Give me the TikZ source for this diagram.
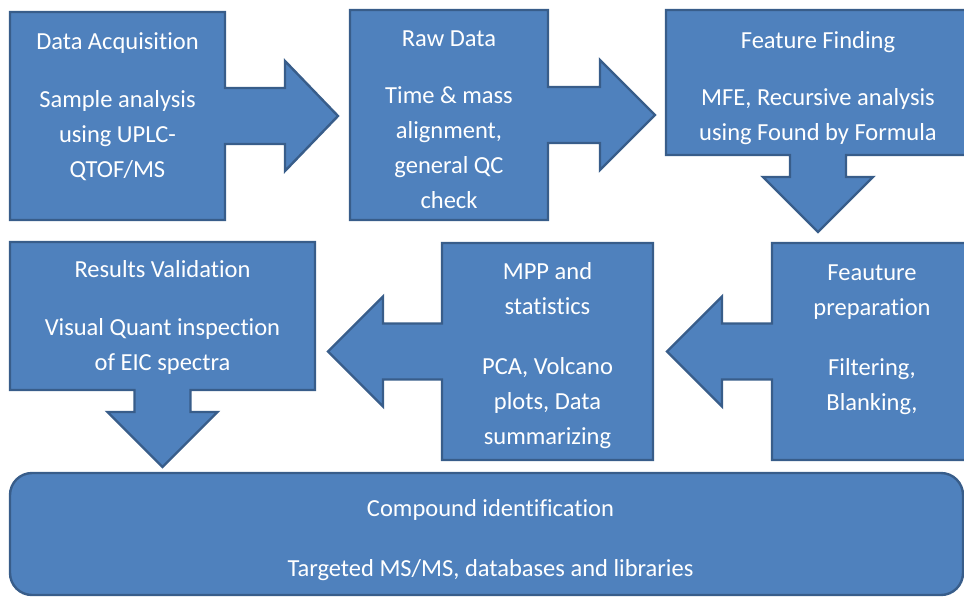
\documentclass[tikz,border=0pt]{standalone}
\usepackage{fontspec}
\setmainfont{Carlito}[Ligatures=NoCommon]
\usetikzlibrary{calc}

\definecolor{boxfill}{HTML}{4F81BD}
\definecolor{boxline}{HTML}{385D8A}

\tikzset{
	stage/.style={rectangle, inner sep=0pt, outer sep=0pt},
	callout/.style={fill=boxfill, draw=boxline, line width=2.4pt, line join=miter},
	stagetext/.style={anchor=north, align=center, text=white, inner sep=0pt,
		font=\fontsize{24.5}{35}\selectfont},
}

\begin{document}
\begin{tikzpicture}[x=1pt, y=-1pt]

% parameters %{{{1

	\def\shaft{28}
	\def\head{55}

	\useasboundingbox (0,0) rectangle (964,598);

% boxes %{{{1

	\node[stage, minimum width=215, minimum height=208] (acq) at (117.5,116) {};
	\node[stage, minimum width=198, minimum height=210] (raw) at (449,115) {};
	\node[stage, minimum width=304, minimum height=145] (find) at (818,82.5) {};
	\node[stage, minimum width=200, minimum height=217] (prep) at (872,351.5) {};
	\node[stage, minimum width=211, minimum height=217] (mpp) at (547.5,351.5) {};
	\node[stage, minimum width=305, minimum height=148] (valid) at (162.5,316) {};

% callouts, right %{{{1

	\draw[callout] (acq.north west) -- (acq.north east)
		-- ($(acq.east)+(0,-\shaft)$) -- ($(acq.east)+(60,-\shaft)$)
		-- ($(acq.east)+(60,-\head)$) -- ($(acq.east)+(113,0)$)
		-- ($(acq.east)+(60,\head)$) -- ($(acq.east)+(60,\shaft)$)
		-- ($(acq.east)+(0,\shaft)$) -- (acq.south east)
		-- (acq.south west) -- cycle;

	\draw[callout] (raw.north west) -- (raw.north east)
		-- ($(raw.east)+(0,-\shaft)$) -- ($(raw.east)+(52,-\shaft)$)
		-- ($(raw.east)+(52,-\head)$) -- ($(raw.east)+(107,0)$)
		-- ($(raw.east)+(52,\head)$) -- ($(raw.east)+(52,\shaft)$)
		-- ($(raw.east)+(0,\shaft)$) -- (raw.south east)
		-- (raw.south west) -- cycle;

% callouts, down %{{{1

	\draw[callout] (find.north west) -- (find.north east)
		-- (find.south east)
		-- ($(find.south)+(\shaft,0)$) -- ($(find.south)+(\shaft,22)$)
		-- ($(find.south)+(\head,22)$) -- ($(find.south)+(0,77)$)
		-- ($(find.south)+(-\head,22)$) -- ($(find.south)+(-\shaft,22)$)
		-- ($(find.south)+(-\shaft,0)$) -- (find.south west) -- cycle;

	\draw[callout] (valid.north west) -- (valid.north east)
		-- (valid.south east)
		-- ($(valid.south)+(\shaft,0)$) -- ($(valid.south)+(\shaft,22)$)
		-- ($(valid.south)+(\head,22)$) -- ($(valid.south)+(0,77)$)
		-- ($(valid.south)+(-\head,22)$) -- ($(valid.south)+(-\shaft,22)$)
		-- ($(valid.south)+(-\shaft,0)$) -- (valid.south west) -- cycle;

% callouts, left %{{{1

	\draw[callout] (prep.north west) -- (prep.north east)
		-- (prep.south east) -- (prep.south west)
		-- ($(prep.west)+(0,\shaft)$) -- ($(prep.west)+(-50,\shaft)$)
		-- ($(prep.west)+(-50,\head)$) -- ($(prep.west)+(-105,0)$)
		-- ($(prep.west)+(-50,-\head)$) -- ($(prep.west)+(-50,-\shaft)$)
		-- ($(prep.west)+(0,-\shaft)$) -- cycle;

	\draw[callout] (mpp.north west) -- (mpp.north east)
		-- (mpp.south east) -- (mpp.south west)
		-- ($(mpp.west)+(0,\shaft)$) -- ($(mpp.west)+(-59,\shaft)$)
		-- ($(mpp.west)+(-59,\head)$) -- ($(mpp.west)+(-114,0)$)
		-- ($(mpp.west)+(-59,-\head)$) -- ($(mpp.west)+(-59,-\shaft)$)
		-- ($(mpp.west)+(0,-\shaft)$) -- cycle;

% bottom bar %{{{1

	\node[stage, callout, rounded corners=22pt, minimum width=953, minimum height=122]
		(ident) at (486.5,534) {};

% labels %{{{1

	\node[stagetext] (acq-text) at ($(acq.north)+(0,20)$)
		{Data Acquisition\\[23pt]Sample analysis\\using UPLC-\\QTOF/MS};
	\node[stagetext] (raw-text) at ($(raw.north)+(0,21)$)
		{Raw Data\\[22pt]Time \& mass\\alignment,\\general QC\\check};
	\node[stagetext] (find-text) at ($(find.north)+(0,21)$)
		{Feature Finding\\[22pt]MFE, Recursive analysis\\using Found by Formula};
	\node[stagetext] (prep-text) at ($(prep.north)+(0,22)$)
		{Feauture\\preparation\\[25pt]Filtering,\\Blanking,};
	\node[stagetext] (mpp-text) at ($(mpp.north)+(0,19)$)
		{MPP and\\statistics\\[25pt]PCA, Volcano\\plots, Data\\summarizing};
	\node[stagetext] (valid-text) at ($(valid.north)+(0,18)$)
		{Results Validation\\[23pt]Visual Quant inspection\\of EIC spectra};
	\node[stagetext] (ident-text) at ($(ident.north)+(4,26)$)
		{Compound identification\\[25pt]Targeted MS/MS, databases and libraries};

% closing %{{{1

\end{tikzpicture}
\end{document}
